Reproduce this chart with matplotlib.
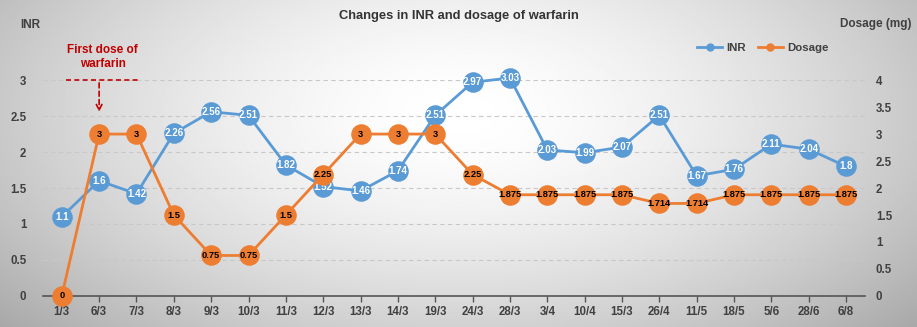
import matplotlib.pyplot as plt
from matplotlib.lines import Line2D
import numpy as np

plt.rcParams['font.family'] = ['Liberation Sans', 'DejaVu Sans']

dates = ['1/3', '6/3', '7/3', '8/3', '9/3', '10/3', '11/3', '12/3', '13/3', '14/3', '19/3',
         '24/3', '28/3', '3/4', '10/4', '15/3', '26/4', '11/5', '18/5', '5/6', '28/6', '6/8']
inr = [1.1, 1.6, 1.42, 2.26, 2.56, 2.51, 1.82, 1.52, 1.46, 1.74, 2.51,
       2.97, 3.03, 2.03, 1.99, 2.07, 2.51, 1.67, 1.76, 2.11, 2.04, 1.8]
dosage = [0, 3, 3, 1.5, 0.75, 0.75, 1.5, 2.25, 3, 3, 3,
          2.25, 1.875, 1.875, 1.875, 1.875, 1.714, 1.714, 1.875, 1.875, 1.875, 1.875]
inr_ticks = [0, 0.5, 1, 1.5, 2, 2.5, 3]
dose_ticks = [0, 0.5, 1, 1.5, 2, 2.5, 3, 3.5, 4]

blue = '#5b9bd5'
orange = '#ed7d31'
txt = '#404040'

fig = plt.figure(figsize=(9.17, 3.27), dpi=100)

# radial gray background
bg = fig.add_axes([0, 0, 1, 1])
yy, xx = np.mgrid[0:1:300j, 0:1:600j]
r = np.sqrt(((xx - 0.5) / 0.62) ** 2 + ((yy - 0.35) / 0.9) ** 2)
shade = 1.0 - 0.3 * np.clip(r, 0, 1.2) ** 1.6
bg.imshow(shade, cmap='gray', vmin=0, vmax=1, extent=[0, 1, 0, 1], aspect='auto', origin='upper')
bg.axis('off')
bg.set_zorder(-10)

ax = fig.add_axes([0.047, 0.095, 0.896, 0.66])
ax.patch.set_alpha(0)
x = np.arange(len(dates))

for t in inr_ticks[1:]:
    ax.axhline(t, color='#c8c8c8', lw=0.8, ls=(0, (4, 3)), zorder=0)

ax.plot(x, inr, color=blue, lw=2, marker='o', ms=13.8, mec=blue, zorder=3, label='INR', clip_on=False)
for i, v in enumerate(inr):
    ax.text(i, v, f'{v:g}', color='white', fontsize=7, fontweight='bold', ha='center', va='center', zorder=4)

ax.set_xlim(-0.5, len(dates) - 0.5)
ax.set_ylim(0, 3)
ax.set_xticks(x)
ax.set_xticklabels(dates)
ax.set_yticks(inr_ticks)
ax.set_yticklabels([f'{t:g}' for t in inr_ticks])
for s in ['top', 'right', 'left']:
    ax.spines[s].set_visible(False)
ax.spines['bottom'].set_color('#555555')
ax.spines['bottom'].set_linewidth(1.2)
ax.tick_params(axis='x', colors='#555555', labelcolor=txt, labelsize=8.3, length=4, width=1)
ax.tick_params(axis='y', length=0, labelcolor=txt, labelsize=8.3, pad=12)
for lb in ax.get_xticklabels() + ax.get_yticklabels():
    lb.set_fontweight('bold')

ax2 = ax.twinx()
ax2.plot(x, dosage, color=orange, lw=2, marker='o', ms=13.8, mec=orange, zorder=3, label='Dosage', clip_on=False)
for i, v in enumerate(dosage):
    ax2.text(i, v, f'{v:g}', color='black', fontsize=6.7, fontweight='bold', ha='center', va='center', zorder=4)
ax2.set_ylim(0, 4)
ax2.set_yticks(dose_ticks)
ax2.set_yticklabels([f'{t:g}' for t in dose_ticks])
for s in ax2.spines.values():
    s.set_visible(False)
ax2.tick_params(axis='y', length=0, labelcolor=txt, labelsize=8.3, pad=8)
for lb in ax2.get_yticklabels():
    lb.set_fontweight('bold')

# legend
hs = [Line2D([], [], color=blue, lw=2, marker='o', ms=5), Line2D([], [], color=orange, lw=2, marker='o', ms=5)]
leg = fig.legend(hs, ['INR', 'Dosage'], loc='center', bbox_to_anchor=(0.832, 0.853), ncol=2, frameon=False,
                 prop={'weight': 'bold', 'size': 8.2}, handlelength=2.2, columnspacing=1.0, handletextpad=0.4)
for t in leg.get_texts():
    t.set_color(txt)

fig.text(0.5, 0.95, 'Changes in INR and dosage of warfarin', ha='center', va='center',
         fontsize=9.3, fontweight='bold', color='#333333')
fig.text(0.033, 0.923, 'INR', ha='center', va='center', fontsize=8.5, fontweight='bold', color=txt)
fig.text(0.994, 0.926, 'Dosage (mg)', ha='right', va='center', fontsize=8.5, fontweight='bold', color=txt)

# first dose annotation
red = '#c00000'
ax.text(1.1, 3.32, 'First dose of\nwarfarin', color=red, fontsize=8.5, fontweight='bold',
        ha='center', va='center', linespacing=1.3, clip_on=False)
ax.plot([0.1, 2.1], [3, 3], color=red, lw=1.2, ls=(0, (3, 2)), clip_on=False, zorder=2)
ax.annotate('', xy=(1.0, 2.52), xytext=(1.0, 3),
            arrowprops=dict(arrowstyle='->', color=red, lw=1.2, ls=(0, (3, 2))), annotation_clip=False)

fig.savefig('out.png', dpi=100)
